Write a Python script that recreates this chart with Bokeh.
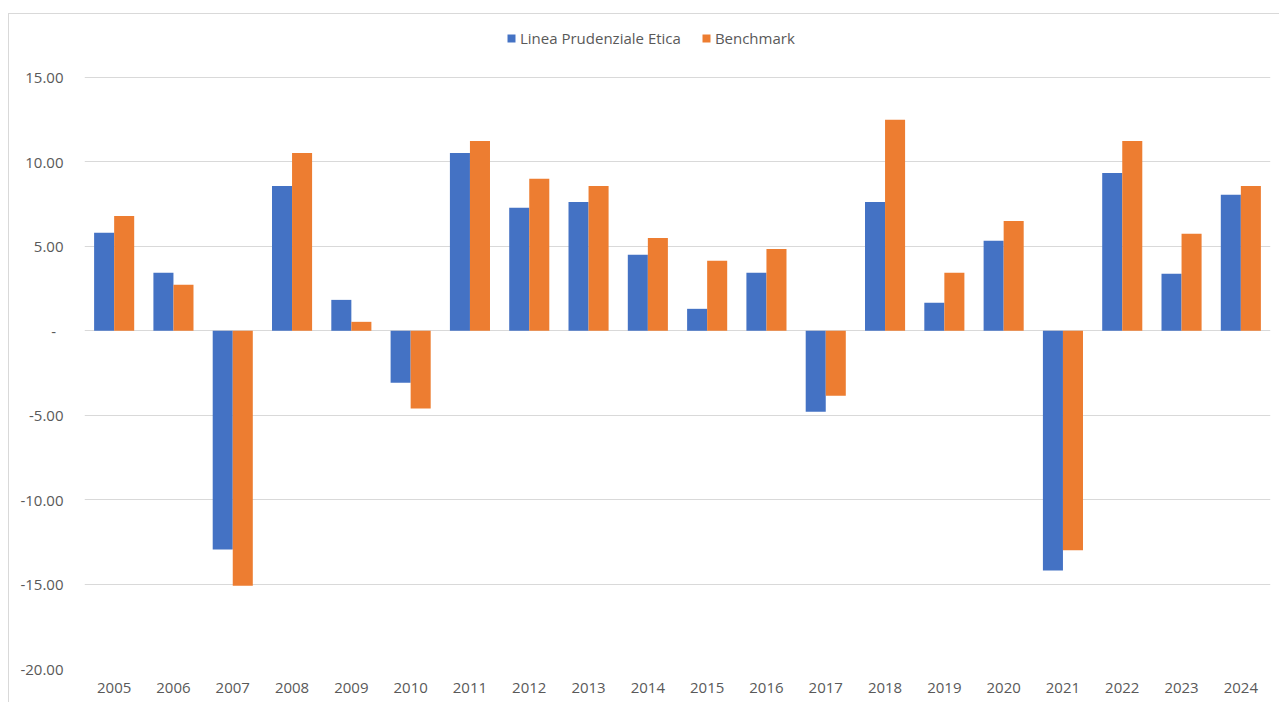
from bokeh.plotting import figure
from bokeh.models import (ColumnDataSource, FactorRange, Range1d, FixedTicker,
                          CustomJSTickFormatter, Legend, LegendItem)
from bokeh.transform import dodge
from bokeh.embed import file_html
from bokeh.resources import INLINE

years = [str(y) for y in range(2005, 2025)]
linea = [5.8, 3.43, -12.96, 8.58, 1.83, -3.08, 10.53, 7.28, 7.63, 4.5,
         1.3, 3.43, -4.8, 7.63, 1.66, 5.33, -14.2, 9.35, 3.37, 8.05]
benchmark = [6.8, 2.72, -15.1, 10.53, 0.53, -4.6, 11.24, 9.0, 8.58, 5.5,
             4.14, 4.85, -3.85, 12.49, 3.43, 6.5, -13.0, 11.24, 5.74, 8.58]
y_ticks = [-20, -15, -10, -5, 0, 5, 10, 15]
series_names = ["Linea Prudenziale Etica", "Benchmark"]
colors = ["#4472C4", "#ED7D31"]

src = ColumnDataSource(dict(year=years, linea=linea, bench=benchmark))

FONT = "Open Sans"
TXT = "#595959"

p = figure(x_range=FactorRange(factors=years, range_padding=0),
           y_range=Range1d(-20, 18.73),
           width=1271, height=689, output_backend="svg", toolbar_location=None,
           min_border_left=75, min_border_right=10, min_border_top=0,
           min_border_bottom=35)
p.styles = {"border-top": "1px solid #d9d9d9", "border-left": "1px solid #d9d9d9",
            "margin-top": "13px", "margin-left": "8px"}
p.outline_line_color = None
p.background_fill_color = "white"
p.border_fill_color = "white"

r1 = p.vbar(x=dodge("year", -0.169, range=p.x_range), top="linea", width=0.338,
            source=src, color=colors[0], line_color=None)
r2 = p.vbar(x=dodge("year", 0.169, range=p.x_range), top="bench", width=0.338,
            source=src, color=colors[1], line_color=None)

p.xgrid.grid_line_color = None
p.ygrid.grid_line_color = "#D9D9D9"
p.ygrid.grid_line_width = 1

p.yaxis.ticker = FixedTicker(ticks=y_ticks)
p.yaxis.formatter = CustomJSTickFormatter(
    code="return tick == 0 ? '-\\u2002' : tick.toFixed(2);")
for ax in (p.xaxis[0], p.yaxis[0]):
    ax.axis_line_color = None
    ax.major_tick_line_color = None
    ax.minor_tick_line_color = None
    ax.major_tick_out = 0
    ax.major_tick_in = 0
    ax.major_label_text_font = FONT
    ax.major_label_text_font_size = "15px"
    ax.major_label_text_color = TXT
p.yaxis.major_label_standoff = 21
p.xaxis.major_label_standoff = 14

legend = Legend(items=[LegendItem(label=series_names[0], renderers=[r1]),
                       LegendItem(label=series_names[1], renderers=[r2])],
                orientation="horizontal", location=(422, 620),
                padding=0, margin=0, spacing=20, label_standoff=4,
                glyph_width=10, glyph_height=10, label_height=18,
                label_text_font=FONT, label_text_font_size="15px",
                label_text_color=TXT, border_line_color=None,
                background_fill_alpha=0)
p.add_layout(legend, "center")

open("out.html", "w").write(file_html(p, INLINE))
